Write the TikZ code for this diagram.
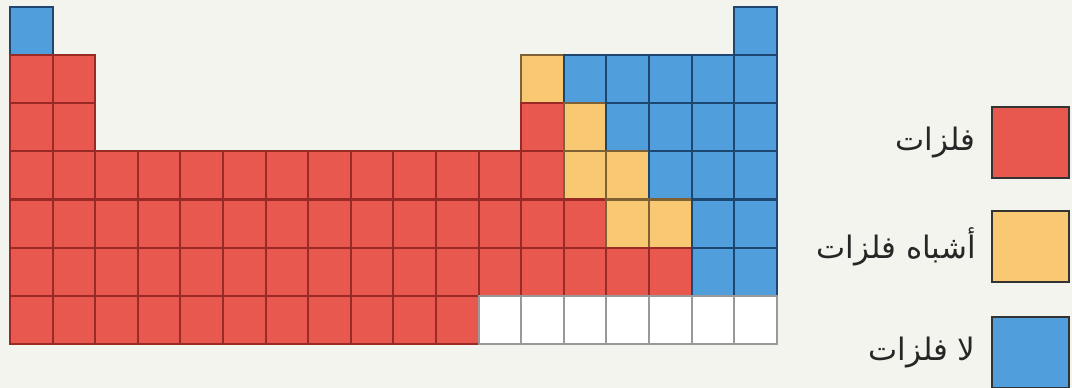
\documentclass[tikz,border=0pt]{standalone}
\usepackage{fontspec}
\newfontfamily\arabicfont[Script=Arabic]{DejaVu Sans}
\TeXXeTstate=1
\usepackage{tikz}
\usetikzlibrary{positioning}
\definecolor{paper}{HTML}{F4F4EF}
\definecolor{metalF}{HTML}{E8584F}
\definecolor{metalD}{HTML}{9A2A25}
\definecolor{semiF}{HTML}{F8C873}
\definecolor{semiD}{HTML}{7E6236}
\definecolor{nonF}{HTML}{509FDC}
\definecolor{nonD}{HTML}{1D4670}

\begin{document}
\begin{tikzpicture}[x=0.025cm, y=-0.025cm,
  cell/.style={line width=1.5pt, inner sep=0pt, outer sep=0pt,
               minimum width=1.065cm, minimum height=1.2075cm},
  cellm/.style={cell, fill=metalF, draw=metalD},
  celld/.style={cell, fill=semiF, draw=semiD},
  celln/.style={cell, fill=nonF, draw=nonD},
  cellw/.style={cell, fill=white, draw=black!40},
  keyN/.style={draw=black!80, line width=1.5pt, inner sep=0pt,
               minimum width=1.925cm, minimum height=1.775cm},
  keyT/.style={font=\arabicfont\fontsize{22}{26}\selectfont, text=black!85, inner sep=0pt}
]
\fill[paper] (0,0) rectangle (1072,388);
\useasboundingbox (0,0) rectangle (1072,388);
% Table (m metal, d metalloid, n nonmetal, w empty cell, 0 no cell)
\foreach \row [count=\r] in {
  {n,0,0,0,0,0,0,0,0,0,0,0,0,0,0,0,0,n},
  {m,m,0,0,0,0,0,0,0,0,0,0,d,n,n,n,n,n},
  {m,m,0,0,0,0,0,0,0,0,0,0,m,d,n,n,n,n},
  {m,m,m,m,m,m,m,m,m,m,m,m,m,d,d,n,n,n},
  {m,m,m,m,m,m,m,m,m,m,m,m,m,m,d,d,n,n},
  {m,m,m,m,m,m,m,m,m,m,m,m,m,m,m,m,n,n},
  {m,m,m,m,m,m,m,m,m,m,m,w,w,w,w,w,w,w}}{
  \foreach \k [count=\c] in \row {
    \if\k0\else
      \node[cell\k] (c-\r-\c) at ({10+(\c-0.5)*42.6}, {7+(\r-0.5)*48.15}) {};
    \fi
  }
}
% Legend
\node[keyN, fill=metalF] (key-m) at (1030.5, 142.5) {};
\node[keyN, fill=semiF] (key-d) at (1030.5, 246.5) {};
\node[keyN, fill=nonF] (key-n) at (1030.5, 352.5) {};
\node[keyT, left=0.375cm of key-m] (lab-m) {\beginR فلزات\endR};
\node[keyT, left=0.375cm of key-d] (lab-d) {\beginR أشباه فلزات\endR};
\node[keyT, left=0.375cm of key-n] (lab-n) {\beginR لا فلزات\endR};
\end{tikzpicture}
\end{document}
